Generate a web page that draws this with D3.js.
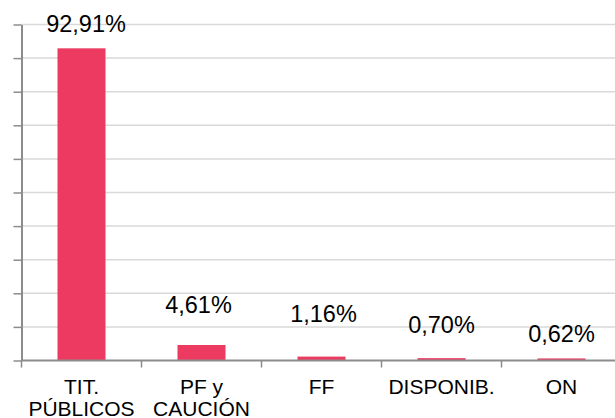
<!DOCTYPE html>
<html>
<head>
<meta charset="utf-8">
<script src="https://cdn.jsdelivr.net/npm/d3@7"></script>
<style>
  body { margin: 0; background: #fff; }
  text { font-family: "Liberation Sans", Arial, sans-serif; fill: #000; }
</style>
</head>
<body>
<svg width="615" height="418"></svg>
<script>
var categorias = [["TIT.", "PÚBLICOS"], ["PF y", "CAUCIÓN"], ["FF"], ["DISPONIB."], ["ON"]];
var valores = [92.91, 4.61, 1.16, 0.70, 0.62];
var etiquetas = ["92,91%", "4,61%", "1,16%", "0,70%", "0,62%"];
var ticksY = [0, 10, 20, 30, 40, 50, 60, 70, 80, 90, 100];

var svg = d3.select("svg"),
    width = +svg.attr("width"),
    height = +svg.attr("height");

var margenIzq = 21.5, margenDer = 621.5, margenSup = 24.5, base = 360.5;

var x = d3.scaleBand()
    .domain(d3.range(valores.length))
    .range([margenIzq, margenDer])
    .paddingInner(0.6)
    .paddingOuter(0.3);

var xTicks = d3.scaleBand()
    .domain(d3.range(valores.length))
    .range([margenIzq, margenDer]);

var y = d3.scaleLinear()
    .domain([0, 100])
    .range([base, margenSup]);

// lineas de grilla
svg.append("g")
    .selectAll("line")
    .data(ticksY.slice(1))
    .enter()
    .append("line")
    .attr("x1", margenIzq)
    .attr("x2", width)
    .attr("y1", d => y(d))
    .attr("y2", d => y(d))
    .attr("stroke", "#d9d9d9")
    .attr("stroke-width", 1.5);

// eje y
svg.append("g")
    .attr("transform", "translate(" + margenIzq + ",0)")
    .call(d3.axisLeft(y).tickValues(ticksY).tickSize(8).tickSizeOuter(0).tickFormat(""))
    .call(g => g.selectAll("line").attr("stroke", "#8c8c8c").attr("stroke-width", 1.5))
    .call(g => g.select(".domain").attr("stroke", "#8c8c8c").attr("stroke-width", 2));

// barras
svg.append("g")
    .selectAll("rect")
    .data(valores)
    .enter()
    .append("rect")
    .attr("x", (d, i) => x(i))
    .attr("width", x.bandwidth())
    .attr("y", d => y(d))
    .attr("height", d => base - y(d))
    .attr("fill", "#ec3a60");

// eje x
var ejeX = svg.append("g")
    .attr("transform", "translate(0," + base + ")");
ejeX.append("line")
    .attr("x1", margenIzq).attr("x2", width)
    .attr("stroke", "#8c8c8c").attr("stroke-width", 2);
ejeX.selectAll("line.tick")
    .data(d3.range(valores.length + 1))
    .enter()
    .append("line")
    .attr("class", "tick")
    .attr("x1", i => i < valores.length ? xTicks(i) : margenDer)
    .attr("x2", i => i < valores.length ? xTicks(i) : margenDer)
    .attr("y1", 0).attr("y2", 7)
    .attr("stroke", "#8c8c8c").attr("stroke-width", 1.5);

// etiquetas de categorias
svg.append("g")
    .selectAll("text")
    .data(categorias)
    .enter()
    .append("text")
    .attr("text-anchor", "middle")
    .attr("font-size", "21px")
    .attr("x", (d, i) => x(i) + x.bandwidth() / 2)
    .attr("y", 394)
    .selectAll("tspan")
    .data(d => d)
    .enter()
    .append("tspan")
    .attr("x", function() { return d3.select(this.parentNode).attr("x"); })
    .attr("dy", (d, i) => i === 0 ? 0 : 21.7)
    .text(d => d);

// etiquetas de datos (desplazadas a mano como en el original)
var separacion = [16.5, 32, 35, 25, 16];
var corrimiento = [4.5, -3, 2, 0, 0];
svg.append("g")
    .selectAll("text")
    .data(valores)
    .enter()
    .append("text")
    .attr("text-anchor", "middle")
    .attr("font-size", "23.5px")
    .attr("x", (d, i) => x(i) + x.bandwidth() / 2 + corrimiento[i])
    .attr("y", (d, i) => y(d) - separacion[i])
    .text((d, i) => etiquetas[i]);
</script>
</body>
</html>
